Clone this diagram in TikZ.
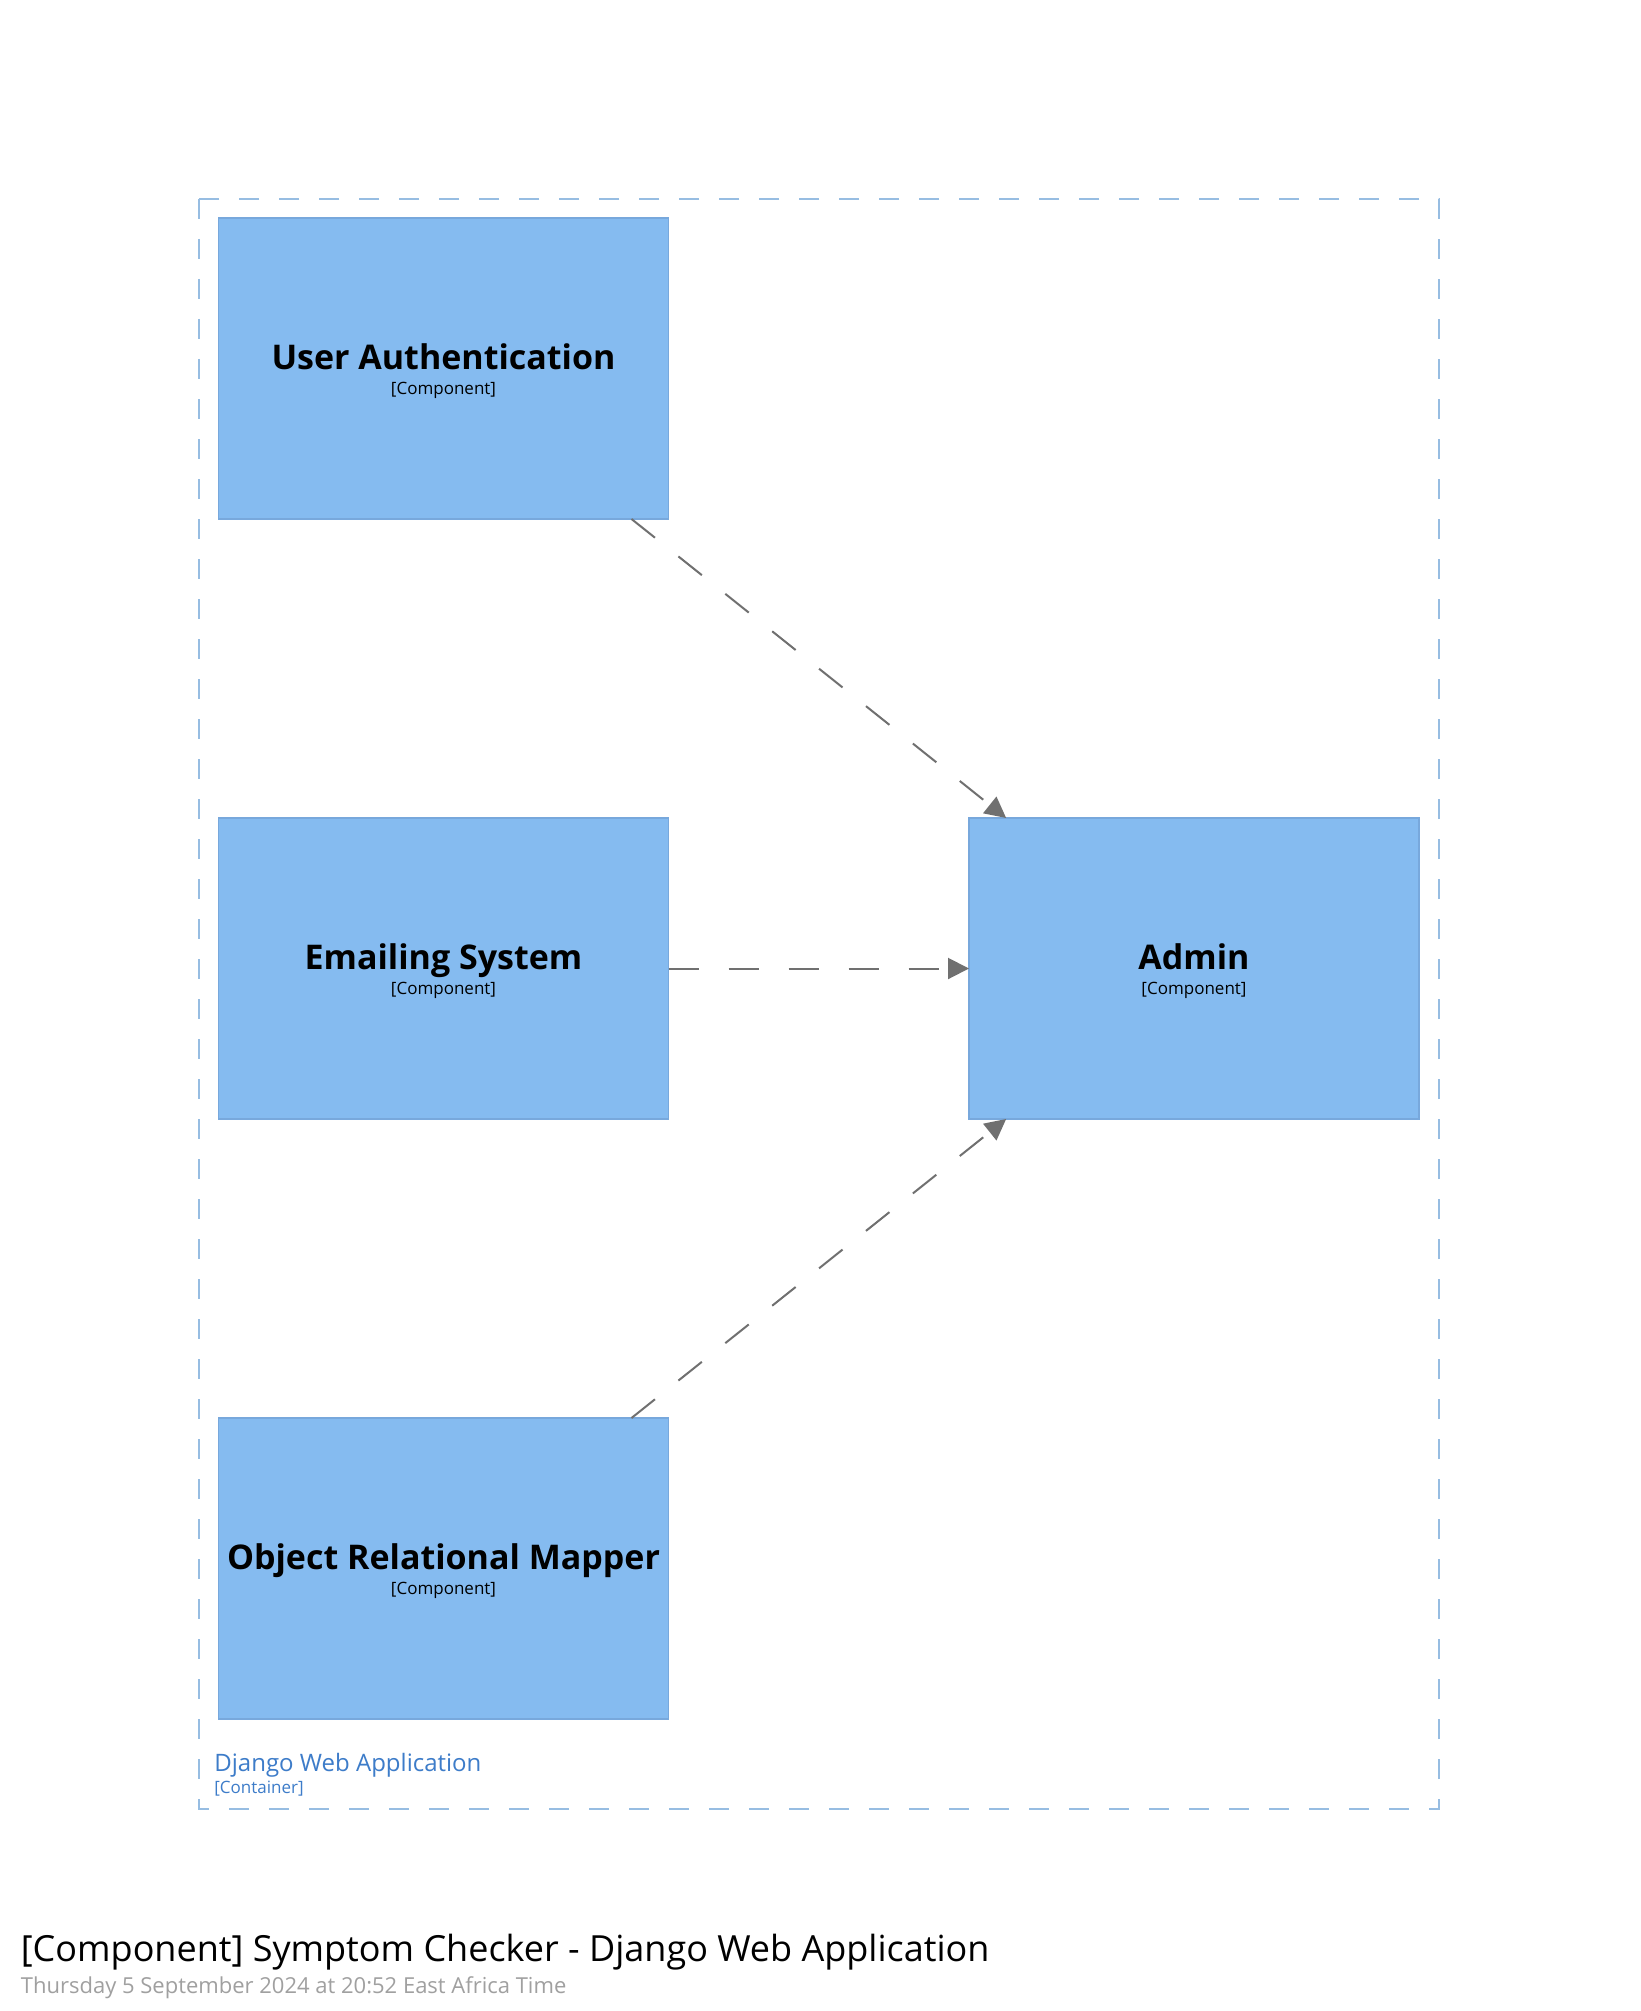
\documentclass[tikz,border=0pt]{standalone}
\usepackage{fontspec}
\setmainfont{Open Sans}
\usetikzlibrary{arrows.meta,calc}
\definecolor{compfill}{HTML}{85BBF0}
\definecolor{compdraw}{HTML}{78A8DC}
\definecolor{boundary}{HTML}{97BDE2}
\definecolor{boundtext}{HTML}{3D7CC9}
\definecolor{relgray}{HTML}{707070}
\definecolor{metagray}{HTML}{A0A0A0}
\tikzset{
  comp/.style={draw=compdraw, fill=compfill, line width=0.75pt, inner sep=0pt, outer sep=0pt,
    minimum width=225pt, minimum height=150.5pt},
  compname/.style={anchor=base, inner sep=0pt, font=\fontsize{17}{20}\selectfont\bfseries},
  comptype/.style={anchor=base, inner sep=0pt, font=\fontsize{8.5}{10}\selectfont},
  rel/.style={draw=relgray, line width=1pt, dash pattern=on 15pt off 15pt,
    -{Triangle[length=10.5pt,width=10.5pt]}},
  boundbox/.style={draw=boundary, line width=1pt, dash pattern=on 10pt off 10pt},
}
\begin{document}
\begin{tikzpicture}[x=0.5pt,y=-0.5pt]
\useasboundingbox (0,0) rectangle (1640,2011);
\fill[white] (0,0) rectangle (1640,2011);
% container boundary
\draw[boundbox] (199,199) rectangle (1439,1809);
\node[anchor=base west, inner sep=0pt, text=boundtext, font=\fontsize{12}{14}\selectfont] (cname) at (214,1771) {Django Web Application};
\node[anchor=base west, inner sep=0pt, text=boundtext, font=\fontsize{8.5}{10}\selectfont] (ctype) at (214,1793) {[Container]};
% components
\node[comp] (ua) at (443.5,368.5) {};
\node[comp] (es) at (443.5,968.5) {};
\node[comp] (orm) at (443.5,1568.5) {};
\node[comp] (admin) at (1194,968.5) {};
\foreach \n/\t in {ua/User Authentication, es/Emailing System, orm/Object Relational Mapper, admin/Admin}{
  \node[compname] (\n-name) at ($(\n.center)+(0,1)$) {\t};
  \node[comptype] (\n-type) at ($(\n.center)+(0,25.5)$) {[Component]};
}
% relationships
\draw[rel] (ua) -- (admin);
\draw[rel] (es) -- (admin);
\draw[rel] (orm) -- (admin);
% title
\node[anchor=base west, inner sep=0pt, font=\fontsize{18}{21}\selectfont] (title) at (20.5,1961) {[Component] Symptom Checker - Django Web Application};
\node[anchor=base west, inner sep=0pt, text=metagray, font=\fontsize{11}{13}\selectfont] (date) at (20.5,1993) {Thursday 5 September 2024 at 20:52 East Africa Time};
\end{tikzpicture}
\end{document}
